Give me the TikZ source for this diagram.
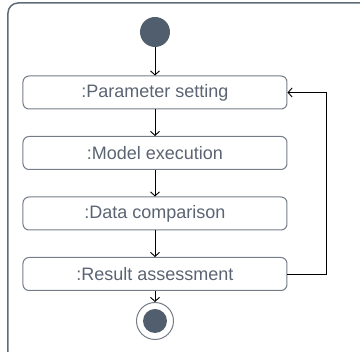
\documentclass[tikz,border=0pt]{standalone}
\usepackage{fontspec}
\setmainfont{Liberation Sans}
\usetikzlibrary{arrows.meta}
\definecolor{frameclr}{HTML}{5F6B78}
\definecolor{boxclr}{HTML}{747C88}
\definecolor{txtclr}{HTML}{5A6472}
\definecolor{dotclr}{HTML}{515E6D}

\begin{document}
\begin{tikzpicture}[x=1pt, y=-1pt]

\tikzstyle{action}=[draw=boxclr, line width=1pt, rounded corners=6pt, minimum width=264pt, minimum height=33pt, inner sep=0pt, text=txtclr, font=\fontsize{18}{21}\selectfont]
\tikzstyle{flow}=[-{Straight Barb[length=4pt,width=9pt]}, line width=0.9pt]

\useasboundingbox (0,0) rectangle (360,352);

% frame of the activity
\draw [frameclr, line width=1.5pt, rounded corners=10pt] (8,3) rectangle (372,362);

\node (start) [circle, fill=dotclr, minimum size=30pt, inner sep=0pt] at (155,32) {};

\node (param) [action] at (155,92.5) {:Parameter setting};
\node (model) [action] at (155,153) {:Model execution};
\node (data) [action] at (155,213.5) {:Data comparison};
\node (result) [action] at (155,274) {:Result assessment};

\node (final) [circle, draw=boxclr, line width=1pt, minimum size=37pt, inner sep=0pt] at (155,321) {};
\node (finaldot) [circle, fill=dotclr, minimum size=24pt, inner sep=0pt] at (final) {};

\draw [flow] (start) -- (param);
\draw [flow] (param) -- (model);
\draw [flow] (model) -- (data);
\draw [flow] (data) -- (result);
\draw [flow] (result) -- (final);
\draw [flow] (result.east) -| (326,92.5) -- (param.east);

\end{tikzpicture}
\end{document}
